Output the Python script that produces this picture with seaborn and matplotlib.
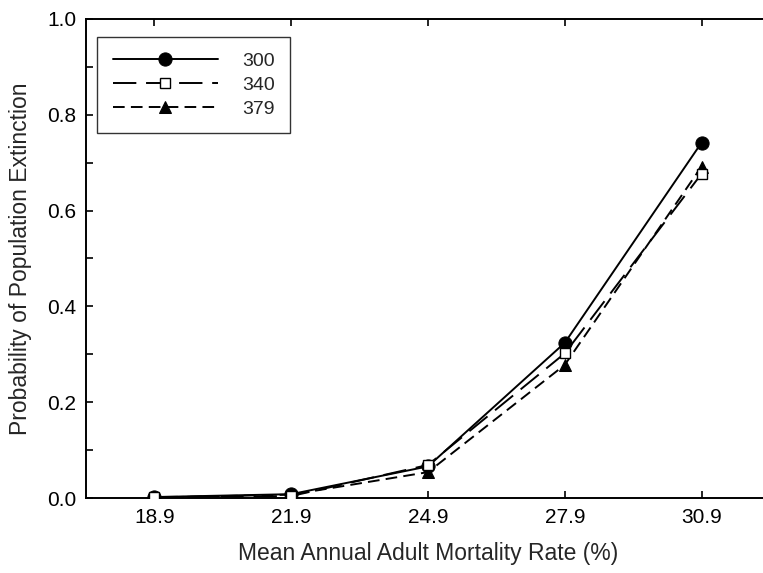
import matplotlib
matplotlib.use("Agg")
import matplotlib.pyplot as plt
from matplotlib.ticker import MultipleLocator, FormatStrFormatter
import seaborn as sns
import pandas as pd

# Mean annual adult mortality rate (%) used as categories on the x axis
mortality = ["18.9", "21.9", "24.9", "27.9", "30.9"]

# Probability of extinction for each starting population size
p_300 = [0.002, 0.008, 0.066, 0.324, 0.742]
p_340 = [0.002, 0.004, 0.069, 0.302, 0.677]
p_379 = [0.001, 0.007, 0.054, 0.278, 0.692]

series_names = ["300", "340", "379"]
series_values = [p_300, p_340, p_379]

sns.set_theme(style="ticks")
plt.rcParams["font.family"] = ["Liberation Sans", "DejaVu Sans"]

rows = []
for name, vals in zip(series_names, series_values):
    for i, (m, v) in enumerate(zip(mortality, vals)):
        rows.append({"pos": i, "mortality": m, "prob": v, "size": name})
df = pd.DataFrame(rows)

fig = plt.figure(figsize=(7.63, 5.73), dpi=100)
ax = fig.add_axes([86 / 763, 75 / 573, 684 / 763, 479 / 573])

styles = {
    "300": dict(linestyle="-", marker="o", markersize=9.5, markerfacecolor="black",
                markeredgecolor="black", zorder=3),
    "340": dict(dashes=(12, 5), marker="s", markersize=7, markerfacecolor="white",
                markeredgecolor="black", markeredgewidth=1.0, zorder=5),
    "379": dict(dashes=(6, 3.2), marker="^", markersize=8.5, markerfacecolor="black",
                markeredgecolor="black", zorder=4),
}

for name in series_names:
    sub = df[df["size"] == name]
    sns.lineplot(data=sub, x="pos", y="prob", ax=ax, color="black", linewidth=1.4,
                 label=name, **styles[name])

ax.set_xlim(-0.5, 4.5)
ax.set_ylim(0, 1.0)
ax.set_xticks(range(len(mortality)))
ax.set_xticklabels(mortality)
ax.yaxis.set_major_locator(MultipleLocator(0.2))
ax.yaxis.set_minor_locator(MultipleLocator(0.1))
ax.yaxis.set_major_formatter(FormatStrFormatter("%.1f"))

ax.tick_params(axis="both", which="both", direction="in", top=True, right=True,
               colors="black", labelsize=15, width=1.2)
ax.tick_params(axis="both", which="major", length=5, pad=7)
ax.tick_params(axis="y", which="minor", length=5)
ax.tick_params(axis="x", which="minor", bottom=False, top=False)
for sp in ax.spines.values():
    sp.set_visible(True)
    sp.set_color("black")
    sp.set_linewidth(1.4)

ax.set_xlabel("Mean Annual Adult Mortality Rate (%)", fontsize=16.5, labelpad=11)
ax.set_ylabel("Probability of Population Extinction", fontsize=16.5, labelpad=11)

leg = ax.legend(loc="upper left", bbox_to_anchor=(11 / 684, 1 - 18 / 479),
                fontsize=14, handlelength=5.4, handletextpad=1.25,
                borderpad=0.8, labelspacing=0.32, frameon=True, fancybox=False,
                borderaxespad=0)
leg.get_frame().set_edgecolor("black")
leg.get_frame().set_linewidth(1.0)

fig.savefig("out.png", dpi=100, facecolor="white")
